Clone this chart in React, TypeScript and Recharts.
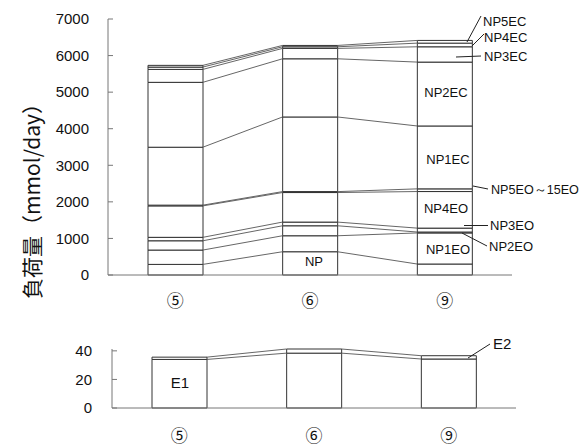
import React from 'react';
import { ComposedChart, Bar, XAxis, YAxis, ReferenceLine } from 'recharts';

const categories = ['⑤', '⑥', '⑨'];

const seriesNames = ['NP', 'NP1EO', 'NP2EO', 'NP3EO', 'NP4EO', 'NP5EO～15EO', 'NP1EC', 'NP2EC', 'NP3EC', 'NP4EC', 'NP5EC'];

// segment values (mmol/day) for ⑤, ⑥, ⑨
const NP = [290, 636, 300];
const NP1EO = [392, 437, 850];
const NP2EO = [254, 273, 25];
const NP3EO = [94, 101, 107];
const NP4EO = [860, 808, 1000];
const NP5EO_15EO = [20, 25, 73];
const NP1EC = [1584, 2041, 1720];
const NP2EC = [1774, 1591, 1747];
const NP3EC = [354, 284, 418];
const NP4EC = [63, 44, 100];
const NP5EC = [47, 37, 74];

const E1 = [34, 38.4, 34.3];
const E2 = [1.6, 2.9, 2.3];

const topTicks = [0, 1000, 2000, 3000, 4000, 5000, 6000, 7000];
const bottomTicks = [0, 20, 40];

const topSeries = [NP, NP1EO, NP2EO, NP3EO, NP4EO, NP5EO_15EO, NP1EC, NP2EC, NP3EC, NP4EC, NP5EC];
const bottomNames = ['E1', 'E2'];
const bottomSeries = [E1, E2];

const buildRows = (names: string[], series: number[][]) =>
  categories.map((c, i) => {
    const row: any = { pos: i + 0.5, cat: c };
    names.forEach((n, k) => (row[n] = series[k][i]));
    return row;
  });

const cumulative = (series: number[][]) => {
  const out: number[][] = [];
  let acc = categories.map(() => 0);
  series.forEach((s) => {
    acc = acc.map((a, i) => a + s[i]);
    out.push(acc.slice());
  });
  return out;
};

const topRows = buildRows(seriesNames, topSeries);
const bottomRows = buildRows(bottomNames, bottomSeries);
const topCum = cumulative(topSeries);
const bottomCum = cumulative(bottomSeries);

const BAR = 55;
const W = 579;
const FONT = '"Liberation Sans", Arial, sans-serif';
const CJK = '"Noto Sans CJK JP", sans-serif';

const makeTick = (dy: number) => (props: any) => {
  const { x, y, payload } = props;
  return (
    <text x={x} y={y + dy} textAnchor="middle" dominantBaseline="central" fontSize={17} fontFamily={CJK} fill="#111">
      {categories[Math.floor(payload.value)]}
    </text>
  );
};

const connectors = (cum: number[][], plotW: number, prefix: string) => {
  const hw = BAR / 2 / (plotW / categories.length);
  const out: any[] = [];
  cum.forEach((tops, k) => {
    for (let i = 0; i < categories.length - 1; i++) {
      out.push(
        <ReferenceLine
          key={`${prefix}-${k}-${i}`}
          segment={[
            { x: i + 0.5 + hw, y: tops[i] },
            { x: i + 1.5 - hw, y: tops[i + 1] },
          ]}
          stroke="#555"
          strokeWidth={0.9}
          ifOverflow="visible"
        />
      );
    }
  });
  return out;
};

export default function App() {
  const topPlotW = 404;
  const botPlotW = 404;
  return (
    <div style={{ position: 'absolute', left: 0, top: 0, width: W, height: 446, background: '#fff' }}>
      <div style={{ position: 'absolute', left: 0, top: 0 }}>
        <ComposedChart width={W} height={320} data={topRows} margin={{ top: 19, right: 67, bottom: 5, left: 48 }}>
          <XAxis
            type="number"
            dataKey="pos"
            domain={[0, 3]}
            ticks={[0.5, 1.5, 2.5]}
            allowDataOverflow
            tickLine={false}
            axisLine={{ stroke: '#777' }}
            height={40}
            tick={makeTick(16)}
          />
          <XAxis
            xAxisId="edges"
            type="number"
            dataKey="pos"
            domain={[0, 3]}
            ticks={[1, 2, 3]}
            allowDataOverflow
            mirror
            height={0}
            tick={false}
            axisLine={false}
            tickSize={4}
            tickLine={{ stroke: '#777' }}
          />
          <YAxis
            type="number"
            domain={[0, 7000]}
            ticks={topTicks}
            width={60}
            tickSize={-5}
            tickMargin={24}
            axisLine={{ stroke: '#777' }}
            tickLine={{ stroke: '#777' }}
            tick={{ fontSize: 15, fontFamily: FONT, fill: '#111' }}
          />
          {seriesNames.map((n) => (
            <Bar key={n} dataKey={n} stackId="a" barSize={BAR} fill="#fff" stroke="#333" strokeWidth={1} isAnimationActive={false} />
          ))}
          {connectors(topCum, topPlotW, 't')}
        </ComposedChart>
      </div>
      <div style={{ position: 'absolute', left: 0, top: 320 }}>
        <ComposedChart width={W} height={126} data={bottomRows} margin={{ top: 29, right: 63, bottom: 8, left: 52 }}>
          <XAxis
            type="number"
            dataKey="pos"
            domain={[0, 3]}
            ticks={[0.5, 1.5, 2.5]}
            allowDataOverflow
            tickLine={false}
            axisLine={{ stroke: '#777' }}
            height={30}
            tick={makeTick(18)}
          />
          <XAxis
            xAxisId="edges"
            type="number"
            dataKey="pos"
            domain={[0, 3]}
            ticks={[1, 2, 3]}
            allowDataOverflow
            mirror
            height={0}
            tick={false}
            axisLine={false}
            tickSize={4}
            tickLine={{ stroke: '#777' }}
          />
          <YAxis
            type="number"
            domain={[0, 40]}
            ticks={bottomTicks}
            width={60}
            tickSize={-5}
            tickMargin={25}
            axisLine={{ stroke: '#777' }}
            tickLine={{ stroke: '#777' }}
            tick={{ fontSize: 15, fontFamily: FONT, fill: '#111' }}
          />
          {bottomNames.map((n) => (
            <Bar key={n} dataKey={n} stackId="b" barSize={BAR} fill="#fff" stroke="#333" strokeWidth={1} isAnimationActive={false} />
          ))}
          {connectors(bottomCum, botPlotW, 'b')}
        </ComposedChart>
      </div>
      <svg width={W} height={446} style={{ position: 'absolute', left: 0, top: 0, pointerEvents: 'none' }}>
        <text
          x={0}
          y={0}
          transform="translate(31,196) rotate(-90)"
          textAnchor="middle"
          dominantBaseline="central"
          fontSize={21}
          fontFamily={CJK}
          fill="#111"
        >
          負荷量（mmol/day）
        </text>
        <g fontFamily={FONT} fontSize={13} fill="#111">
          <text x={483} y={21} dominantBaseline="central">NP5EC</text>
          <text x={484} y={37} dominantBaseline="central">NP4EC</text>
          <text x={484} y={56} dominantBaseline="central">NP3EC</text>
          <text x={446} y={92} textAnchor="middle" dominantBaseline="central">NP2EC</text>
          <text x={448} y={159} textAnchor="middle" dominantBaseline="central">NP1EC</text>
          <text x={491} y={190} dominantBaseline="central" fontSize={12.6}>NP5EO～15EO</text>
          <text x={446} y={208} textAnchor="middle" dominantBaseline="central">NP4EO</text>
          <text x={490} y={225} dominantBaseline="central">NP3EO</text>
          <text x={489} y={246} dominantBaseline="central">NP2EO</text>
          <text x={448} y={249} textAnchor="middle" dominantBaseline="central">NP1EO</text>
          <text x={314} y={261} textAnchor="middle" dominantBaseline="central">NP</text>
        </g>
        <g fontFamily={FONT} fontSize={15} fill="#111">
          <text x={180} y={382} textAnchor="middle" dominantBaseline="central">E1</text>
          <text x={493} y={343} dominantBaseline="central">E2</text>
        </g>
        <g stroke="#222" strokeWidth={1}>
          <line x1={481} y1={16} x2={467} y2={42} />
          <line x1={484} y1={34} x2={472} y2={46} />
          <line x1={481} y1={56} x2={456} y2={57} />
          <line x1={488} y1={189} x2={473} y2={186} />
          <line x1={488} y1={225.5} x2={464} y2={225.5} />
          <line x1={487} y1={246} x2={462} y2={233} />
          <line x1={490} y1={344} x2={468} y2={358} />
        </g>
      </svg>
    </div>
  );
}
